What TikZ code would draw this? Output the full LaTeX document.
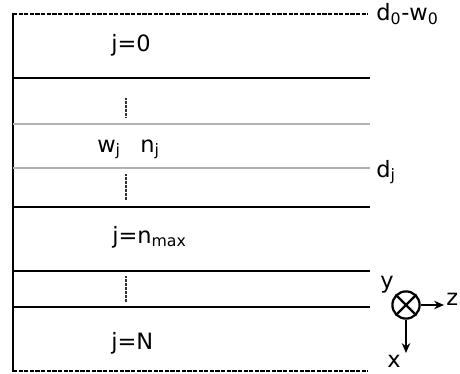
\documentclass[tikz,border=0pt]{standalone}
\usepackage{fontspec}
\setmainfont{DejaVu Sans}
\usetikzlibrary{arrows.meta, positioning}

\tikzset{
    layer/.style={line width=2pt},
    sublayer/.style={line width=0.9pt, gray!60},
    edge/.style={line width=1.6pt, dash pattern=on 3pt off 1pt},
    dots/.style={line width=2pt, black!80, dash pattern=on 0.6pt off 0.35pt},
    lbl/.style={font=\fontsize{16}{18}\selectfont, inner sep=0pt, anchor=base west},
    axis/.style={line width=1.6pt, -{Stealth[length=7pt, width=6pt]}}
}

\begin{document}
\begin{tikzpicture}[x=0.025cm, y=-0.025cm]
    \useasboundingbox (0,0) rectangle (460,374);
    % outer boundaries
    \draw[line width=2pt] (13,13) -- (13,372);
    \draw[edge] (13,14) -- (368,14);
    \draw[edge] (13,371) -- (368,371);
    % interfaces
    \draw[layer] (13,78) -- (370,78);
    \draw[sublayer] (13,124) -- (370,124);
    \draw[sublayer] (13,168) -- (370,168);
    \draw[layer] (13,207) -- (370,207);
    \draw[layer] (13,271) -- (370,271);
    \draw[layer] (13,307) -- (370,307);
    % skipped layers
    \foreach \ya/\yb in {98/117, 174/200, 276/302}
        \draw[dots] (126,\ya) -- (126,\yb);

    % labels
    \node[lbl] (top) at (111,52) {j=0};
    \node[lbl] (wj) at (97,152) {w\textsubscript{j}};
    \node[lbl] (nj) at (140,152) {n\textsubscript{j}};
    \node[lbl] (nmax) at (112,243) {j=n\textsubscript{max}};
    \node[lbl] (bot) at (111,349) {j=N};
    \node[lbl] (d0) at (376,21) {d\textsubscript{0}-w\textsubscript{0}};
    \node[lbl] (dj) at (376,177) {d\textsubscript{j}};

    % coordinate axes
    \node[circle, draw, line width=1.6pt, minimum size=0.68cm, inner sep=0pt] (ey) at (406,305) {};
    \draw[line width=1.6pt] (ey.north west) -- (ey.south east);
    \draw[line width=1.6pt] (ey.north east) -- (ey.south west);
    \coordinate (zend) at (444,305);
    \coordinate (xend) at (406,353);
    \draw[axis] (ey.east) -- (zend);
    \draw[axis] (ey.south) -- (xend);
    \node[lbl] (zl) at (446,305) {z};
    \node[lbl] (xl) at (387,367) {x};
    \node[lbl] (yl) at (380,288) {y};
\end{tikzpicture}
\end{document}
